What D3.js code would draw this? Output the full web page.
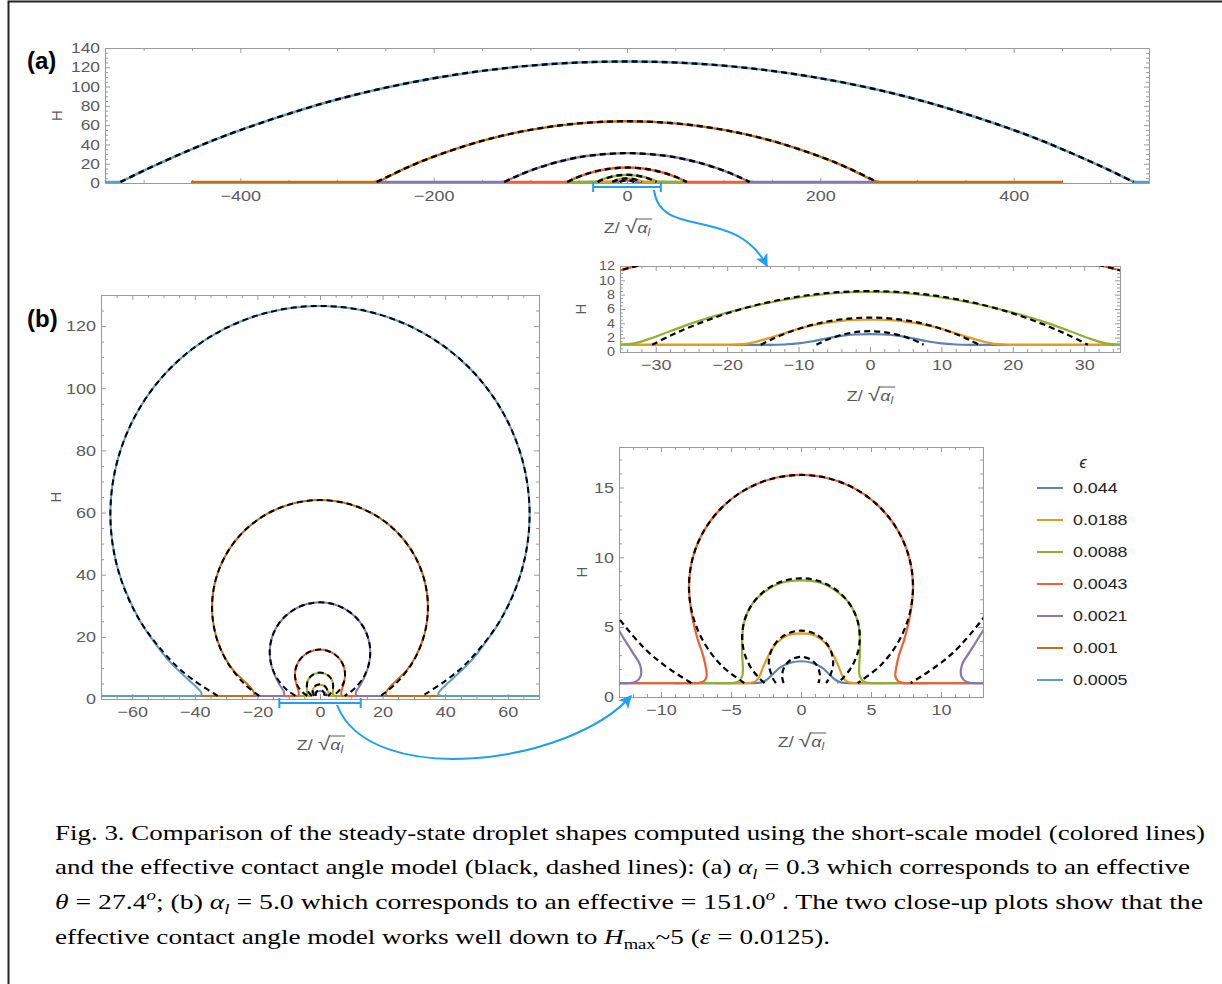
<!DOCTYPE html>
<html>
<head>
<meta charset="utf-8">
<script src="https://cdn.jsdelivr.net/npm/d3@7"></script>
<style>
	body { margin: 0; background: #fff; }
	svg { display: block; font-family: 'Liberation Sans', Arial, sans-serif; }
	.axis path, .axis line { stroke: #9a9a9a; stroke-width: 1; }
	.axis text { fill: #5a5a5a; font-size: 15px; font-family: 'Liberation Sans', Arial, sans-serif; }
	.caption { font-family: 'Liberation Serif', 'Times New Roman', serif; font-size: 22px; fill: #000; }
</style>
</head>
<body>
<svg width="1222" height="984"></svg>
<script>
const epsilon = ['0.044', '0.0188', '0.0088', '0.0043', '0.0021', '0.001', '0.0005'];
const colours = ['#5E81B5', '#E19C24', '#8FB032', '#EB6235', '#8778B3', '#C56E1A', '#5D9EC7'];

// (a) alpha_l = 0.3 -- right halves of each profile, [Z/sqrt(alpha_l), H]
const filmA = [40, 50, 60, 130, 260, 450, 560];
const profileA = [
	[[0, 2.5], [2, 2.44], [4, 2.25], [6, 1.9], [8, 1.5], [10, 1.2], [12, 1.05], [14, 1]],
	[[0, 4.5], [3, 4.45], [6, 4.1], [9, 3.5], [12, 2.6], [15, 1.7], [17, 1.2], [19, 1.02], [21, 1]],
	[[0, 8.4], [5, 8.2], [10, 7.6], [15, 6.7], [20, 5.5], [25, 4.0], [28, 2.9], [31, 1.8], [33, 1.2], [35, 1.02], [37, 1]],
	[[0, 16], [20, 14.5], [35, 11.4], [45, 8.3], [55, 4.3], [60, 2.0], [63, 1.1], [65, 1]],
	[[0, 31], [40, 28.2], [60, 24.6], [80, 19.5], [100, 12.8], [115, 6.66], [125, 2], [129, 1]],
	[[0, 64], [50, 61.8], [100, 55.1], [150, 43.7], [200, 27.3], [230, 15.0], [255, 2.5], [261, 1]],
	[[0, 126], [100, 121.7], [200, 108.6], [300, 86.6], [400, 54.9], [450, 35.2], [500, 12.8], [520, 3], [526, 1]],
];
const capA = [
	[[0, 2.9], [1.5, 2.83], [3, 2.61], [4.5, 2.24], [6, 1.71], [7, 1.26], [7.5, 1]],
	[[0, 4.8], [3, 4.66], [6, 4.25], [9, 3.54], [12, 2.52], [14, 1.65], [15.3, 1]],
	[[0, 8.5], [5, 8.31], [10, 7.74], [15, 6.77], [20, 5.39], [25, 3.57], [28, 2.25], [30.5, 1]],
	[[0, 16], [20, 14.5], [35, 11.4], [45, 8.3], [55, 4.3], [62, 1]],
	[[0, 31], [40, 28.2], [60, 24.6], [80, 19.5], [100, 12.8], [115, 6.66], [127, 1]],
	[[0, 64], [50, 61.8], [100, 55.1], [150, 43.7], [200, 27.3], [230, 15.0], [259, 1]],
	[[0, 126], [100, 121.7], [200, 108.6], [300, 86.6], [400, 54.9], [450, 35.2], [500, 12.8], [524, 1]],
];

// (b) alpha_l = 5.0
const filmB = [14, 6, 9, 14, 25, 45, 75];
const profileB = [
	[[0, 2.56], [0.75, 2.45], [1.5, 2.1], [2, 1.65], [2.5, 1.2], [2.9, 1.03], [3.5, 1]],
	[[0, 4.55], [1, 4.4], [1.7, 3.9], [2.2, 3.2], [2.55, 2.5], [2.8, 1.9], [3.0, 1.4], [3.3, 1.1], [3.8, 1]],
	[[0, 8.35], [1.5, 8.15], [2.5, 7.6], [3.3, 6.9], [3.8, 6.1], [4.1, 5.2], [4.2, 4.2], [4.2, 3.0], [4.15, 2.0], [4.2, 1.5], [4.5, 1.1], [5.2, 1]],
	[[0, 15.9], [2.07, 15.63], [4.0, 14.83], [5.66, 13.56], [6.93, 11.9], [7.73, 9.97], [8, 7.9], [7.8, 5.9], [7.4, 4.2], [7.0, 3.0], [6.78, 2.0], [6.75, 1.45], [6.95, 1.12], [7.4, 1]],
	[[0, 31.1], [4.16, 30.55], [8.04, 28.95], [11.36, 26.39], [13.92, 23.07], [15.52, 19.19], [16.07, 15.03], [15.6, 11], [14.5, 7.8], [13.2, 5.1], [12.1, 3.3], [11.5, 2.3], [11.45, 1.5], [11.8, 1.1], [12.5, 1]],
	[[0, 64], [8.93, 62.82], [17.25, 59.38], [24.4, 53.9], [29.88, 46.75], [33.32, 38.43], [34.5, 29.5], [33.32, 20.57], [30.5, 13.5], [27.5, 9], [24.5, 6], [22.3, 3.8], [21.2, 2.3], [21.0, 1.5], [21.3, 1.1], [22, 1]],
	[[0, 126.5], [17.34, 124.2], [33.5, 117.5], [47.38, 106.9], [58.02, 93.0], [64.72, 76.8], [67, 59.5], [64.72, 42.2], [58.02, 26.0], [53.5, 19], [48.5, 12.5], [44, 8], [40.5, 4.8], [38.5, 2.8], [37.8, 1.7], [38.1, 1.15], [39, 1]],
];
const capB = [
	[[0, 2.87], [0.675, 2.69], [1.17, 2.195], [1.35, 1.52], [1.246, 1]],
	[[0, 4.75], [1.15, 4.44], [1.99, 3.6], [2.3, 2.45], [1.99, 1.3], [1.79, 1]],
	[[0, 8.5], [1.09, 8.36], [2.1, 7.94], [2.97, 7.27], [3.64, 6.4], [4.06, 5.39], [4.2, 4.3], [4.06, 3.21], [3.64, 2.2], [2.97, 1.33], [2.6, 1]],
	[[0, 15.9], [2.07, 15.63], [4.0, 14.83], [5.66, 13.56], [6.93, 11.9], [7.73, 9.97], [8, 7.9], [7.73, 5.83], [6.93, 3.9], [5.66, 2.24], [4.05, 1]],
	[[0, 31.1], [4.16, 30.55], [8.04, 28.95], [11.36, 26.39], [13.92, 23.07], [15.52, 19.19], [16.07, 15.03], [15.52, 10.87], [13.92, 7.0], [11.36, 3.67], [9.8, 2.3], [7.84, 1]],
	[[0, 64], [8.93, 62.82], [17.25, 59.38], [24.4, 53.9], [29.88, 46.75], [33.32, 38.43], [34.5, 29.5], [33.32, 20.57], [29.88, 12.25], [24.4, 5.1], [19.4, 1]],
	[[0, 126.5], [17.34, 124.2], [33.5, 117.5], [47.38, 106.9], [58.02, 93.0], [64.72, 76.8], [67, 59.5], [64.72, 42.2], [58.02, 26.0], [47.38, 12.1], [40.3, 6.0], [32.7, 1]],
];

// tick labels
const xTicksA = [-400, -200, 0, 200, 400];
const yTicksA = [0, 20, 40, 60, 80, 100, 120, 140];
const xTicksAi = [-30, -20, -10, 0, 10, 20, 30];
const yTicksAi = [0, 2, 4, 6, 8, 10, 12];
const xTicksB = [-60, -40, -20, 0, 20, 40, 60];
const yTicksB = [0, 20, 40, 60, 80, 100, 120];
const xTicksBi = [-10, -5, 0, 5, 10];
const yTicksBi = [0, 5, 10, 15];

const svg = d3.select('svg');
const blue = '#1E9FF2';
const grey = '#5a5a5a';

// the source figure is a little wider than tall in its lettering
const stretch = (sel, k) => sel.each(function() {
	const w = this.getComputedTextLength();
	if (w > 0) {
		this.setAttribute('textLength', w * k);
		this.setAttribute('lengthAdjust', 'spacingAndGlyphs');
	}
});

// frame of the whole figure
svg.append('path')
	.attr('d', 'M8.5,984 V1.5 H1222')
	.attr('fill', 'none')
	.attr('stroke', '#222')
	.attr('stroke-width', 2);

svg.append('defs').append('marker')
	.attr('id', 'head')
	.attr('viewBox', '0 0 10 10')
	.attr('refX', 9)
	.attr('refY', 5)
	.attr('markerUnits', 'userSpaceOnUse')
	.attr('markerWidth', 13)
	.attr('markerHeight', 13)
	.attr('orient', 'auto')
	.append('path')
	.attr('d', 'M0,0 L10,5 L0,10 L2.5,5 z')
	.attr('fill', blue);

const mirror = half => half.slice(1).reverse().map(([z, h]) => [-z, h]).concat(half);

const zLabel = (g, cx, cy) => {
	const t = g.append('text')
		.attr('x', cx)
		.attr('y', cy)
		.attr('text-anchor', 'middle')
		.attr('font-size', 15)
		.attr('fill', grey);
	t.append('tspan').text('Z/ ');
	t.append('tspan').attr('font-size', 19).text('√');
	t.append('tspan').attr('font-style', 'italic').text('α');
	t.append('tspan').attr('font-style', 'italic').attr('font-size', 10).attr('dy', 3).text('l');
	stretch(t, 1.2);
	const node = t.node();
	const r = node.getExtentOfChar(3);
	const bb = node.getBBox();
	g.append('line')
		.attr('x1', r.x + r.width - 1)
		.attr('x2', bb.x + bb.width + 1)
		.attr('y1', cy - 14)
		.attr('y2', cy - 14)
		.attr('stroke', grey)
		.attr('stroke-width', 1);
};

const drawPanel = (p, i) => {
	const x = d3.scaleLinear().domain(p.xd).range([p.x0, p.x1]);
	const y = d3.scaleLinear().domain(p.yd).range([p.y1, p.y0]);
	const g = svg.append('g');

	g.append('clipPath')
		.attr('id', `clip-${i}`)
		.append('rect')
		.attr('x', p.x0)
		.attr('y', p.y0)
		.attr('width', p.x1 - p.x0)
		.attr('height', p.y1 - p.y0);

	const minorX = d3.range(Math.ceil(p.xd[0] / p.xm) * p.xm, p.xd[1] + 1e-9, p.xm);
	const minorY = d3.range(0, p.yd[1] + 1e-9, p.ym);

	const axes = [
		[d3.axisBottom(x), `translate(0,${p.y1})`, p.xt, minorX, true, 7, 15],
		[d3.axisTop(x), `translate(0,${p.y0})`, p.xt, minorX, false, 7, 15],
		[d3.axisLeft(y), `translate(${p.x0},0)`, p.yt, minorY, true, 5, p.yfs],
		[d3.axisRight(y), `translate(${p.x1},0)`, p.yt, minorY, false, 5, p.yfs],
	];
	axes.forEach(([axis, tr, major, minor, labelled, pad, fs]) => {
		g.append('g')
			.attr('class', 'axis')
			.attr('transform', tr)
			.call(axis.tickValues(minor.filter(v => !major.some(m => Math.abs(m - v) < 1e-9)))
				.tickSizeInner(-3).tickSizeOuter(0).tickFormat(''));
		const gm = g.append('g')
			.attr('class', 'axis')
			.attr('transform', tr)
			.call(axis.tickValues(major).tickSizeInner(-5).tickSizeOuter(0)
				.tickPadding(pad)
				.tickFormat(labelled ? d3.format('') : ''));
		gm.selectAll('text').style('font-size', `${fs}px`);
		stretch(gm.selectAll('text'), 1.2);
	});

	const plot = g.append('g').attr('clip-path', `url(#clip-${i})`);
	const line = d3.line()
		.x(d => x(d[0]))
		.y(d => y(d[1]))
		.curve(d3.curveCatmullRom.alpha(0.5));
	const flat = d3.line().x(d => x(d[0])).y(d => y(d[1]));

	p.prof.forEach((half, k) => {
		const foot = half[half.length - 1][0];
		const L = p.film[k];
		[[[-L, 1], [-foot, 1]], [[foot, 1], [L, 1]]].forEach(seg => {
			plot.append('path')
				.attr('d', flat(seg))
				.attr('fill', 'none')
				.attr('stroke', colours[k])
				.attr('stroke-width', p.lw)
				.attr('stroke-linecap', 'round');
		});
		plot.append('path')
			.attr('d', line(mirror(half)))
			.attr('fill', 'none')
			.attr('stroke', colours[k])
			.attr('stroke-width', p.lw)
			.attr('stroke-linecap', 'round')
			.attr('stroke-linejoin', 'round');
	});

	p.cap.forEach(half => {
		plot.append('path')
			.attr('d', line(mirror(half)))
			.attr('fill', 'none')
			.attr('stroke', '#000')
			.attr('stroke-width', p.lw)
			.attr('stroke-dasharray', '6,4');
	});

	g.append('text')
		.attr('transform', `translate(${p.hx},${(p.y0 + p.y1) / 2}) rotate(-90)`)
		.attr('text-anchor', 'middle')
		.attr('dy', '0.35em')
		.attr('font-size', 15)
		.attr('fill', grey)
		.text('H');

	zLabel(g, x(0), p.zy);
	return { x, y };
};

const panels = [
	{ x0: 105, x1: 1149, y0: 48, y1: 183, xd: [-540, 540], yd: [0, 140], xt: xTicksA, yt: yTicksA, xm: 50, ym: 5,
		prof: profileA, cap: capA, film: filmA, hx: 57, zy: 233, lw: 2.4, yfs: 14.5 },
	{ x0: 620, x1: 1120, y0: 266, y1: 352, xd: [-35, 35], yd: [0, 12], xt: xTicksAi, yt: yTicksAi, xm: 2, ym: 0.5,
		prof: profileA, cap: capA, film: filmA, hx: 581, zy: 401, lw: 2.2, yfs: 12 },
	{ x0: 101, x1: 539, y0: 295, y1: 699, xd: [-70, 70], yd: [0, 130], xt: xTicksB, yt: yTicksB, xm: 5, ym: 5,
		prof: profileB, cap: capB, film: filmB, hx: 56, zy: 750, lw: 2, yfs: 15 },
	{ x0: 619, x1: 983, y0: 447, y1: 697, xd: [-13, 13], yd: [0, 17.9], xt: xTicksBi, yt: yTicksBi, xm: 1, ym: 1,
		prof: profileB, cap: capB, film: filmB, hx: 582, zy: 747, lw: 2.2, yfs: 15 },
];

const scales = panels.map(drawPanel);

// panel letters
[['(a)', 69], ['(b)', 327]].forEach(([t, yy]) => {
	svg.append('text')
		.attr('x', 27)
		.attr('y', yy)
		.attr('font-size', 24)
		.attr('font-weight', 700)
		.attr('fill', '#000')
		.text(t);
});

// zoom brackets + arrows
const bracket = (sx, lo, hi, yy) => {
	const gb = svg.append('g').attr('stroke', blue).attr('stroke-width', 2).attr('fill', 'none');
	gb.append('line').attr('x1', sx(lo)).attr('x2', sx(hi)).attr('y1', yy).attr('y2', yy);
	[lo, hi].forEach(v => {
		gb.append('line').attr('x1', sx(v)).attr('x2', sx(v)).attr('y1', yy - 5).attr('y2', yy + 5);
	});
};
bracket(scales[0].x, panels[1].xd[0], panels[1].xd[1], 187);
bracket(scales[2].x, panels[3].xd[0], panels[3].xd[1], 703);

svg.append('path')
	.attr('d', 'M654,190 C660,240 735,205 767,266')
	.attr('fill', 'none')
	.attr('stroke', blue)
	.attr('stroke-width', 2)
	.attr('marker-end', 'url(#head)');
svg.append('path')
	.attr('d', 'M337,705 C370,790 570,765 631,696')
	.attr('fill', 'none')
	.attr('stroke', blue)
	.attr('stroke-width', 2)
	.attr('marker-end', 'url(#head)');

// legend
const legend = svg.append('g').attr('transform', 'translate(1037,488)');
legend.append('text')
	.attr('x', 46)
	.attr('y', -26)
	.attr('text-anchor', 'middle')
	.attr('dy', '0.35em')
	.attr('font-size', 16)
	.attr('font-style', 'italic')
	.attr('fill', '#222')
	.text('ϵ');
epsilon.forEach((e, k) => {
	const row = legend.append('g').attr('transform', `translate(0,${k * 32})`);
	row.append('line')
		.attr('x1', 0)
		.attr('x2', 26)
		.attr('stroke', colours[k])
		.attr('stroke-width', 2);
	const t = row.append('text')
		.attr('x', 36)
		.attr('dy', '0.35em')
		.attr('font-size', 15.5)
		.attr('fill', '#222')
		.text(e);
	stretch(t, 1.15);
});

// caption
const cap = svg.append('g').attr('class', 'caption');
const capLine = (yy, parts, len) => {
	const t = cap.append('text').attr('x', 55).attr('y', yy)
		.attr('textLength', len).attr('lengthAdjust', 'spacingAndGlyphs');
	parts.forEach(([s, style]) => {
		const ts = t.append('tspan').text(s);
		if (style === 'i') ts.attr('font-style', 'italic');
		if (style === 'sub') ts.attr('font-style', 'italic').attr('font-size', 15).attr('dy', 5);
		if (style === 'subr') ts.attr('font-size', 15).attr('dy', 5);
		if (style === 'sup') ts.attr('font-style', 'italic').attr('font-size', 15).attr('dy', -9);
		if (style === 'back5') ts.attr('dy', -5);
		if (style === 'back9') ts.attr('dy', 9);
	});
};
capLine(840, [['Fig. 3. Comparison of the steady-state droplet shapes computed using the short-scale model (colored lines)']], 1150);
capLine(874, [
	['and the effective contact angle model (black, dashed lines): (a) '], ['α', 'i'], ['l', 'sub'],
	[' = 0.3 which corresponds to an effective', 'back5'],
], 1135);
capLine(909, [
	['θ', 'i'], [' = 27.4'], ['o', 'sup'], ['; (b) ', 'back9'], ['α', 'i'], ['l', 'sub'],
	[' = 5.0 which corresponds to an effective = 151.0', 'back5'], ['o', 'sup'],
	[' . The two close-up plots show that the', 'back9'],
], 1148);
capLine(944, [
	['effective contact angle model works well down to '], ['H', 'i'], ['max', 'subr'],
	['~5 (', 'back5'], ['ε', 'i'], [' = 0.0125).'],
], 775);
</script>
</body>
</html>
